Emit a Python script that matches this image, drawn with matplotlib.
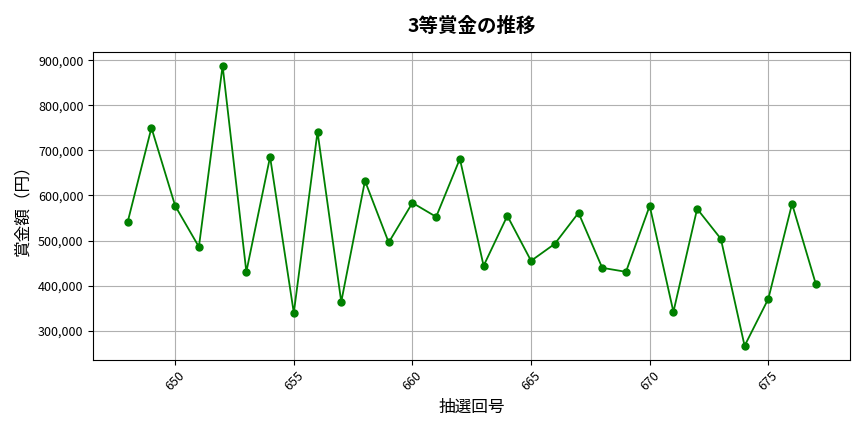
import matplotlib
matplotlib.use("Agg")
import matplotlib.pyplot as plt
from matplotlib.ticker import FuncFormatter

plt.rcParams['font.family'] = ['Noto Sans CJK JP', 'DejaVu Sans']

draws = list(range(648, 678))
prizes = [541500, 750400, 577000, 485900, 888100, 430400, 685900, 339300,
          741500, 363700, 632600, 495600, 583700, 552600, 681500, 443700,
          554800, 454800, 492600, 561500, 439300, 430400, 577000, 341500,
          570400, 503700, 265900, 370400, 581500, 403700]

fig, ax = plt.subplots(figsize=(8.64, 4.32), dpi=100)
ax.plot(draws, prizes, color='green', marker='o', markersize=5, linewidth=1.3)

ax.set_title('3等賞金の推移', fontsize=14, fontweight='bold', pad=14)
ax.set_xlabel('抽選回号', fontsize=12, labelpad=4)
ax.set_ylabel('賞金額（円）', fontsize=12, labelpad=5)
ax.yaxis.set_major_formatter(FuncFormatter(lambda v, p: f'{int(v):,}'))
ax.tick_params(axis='both', labelsize=9)
plt.setp(ax.get_xticklabels(), rotation=45)
ax.grid(True, color='#b0b0b0', linewidth=0.8)

fig.subplots_adjust(left=0.108, right=0.984, top=0.88, bottom=0.167)
fig.savefig('out.png')
